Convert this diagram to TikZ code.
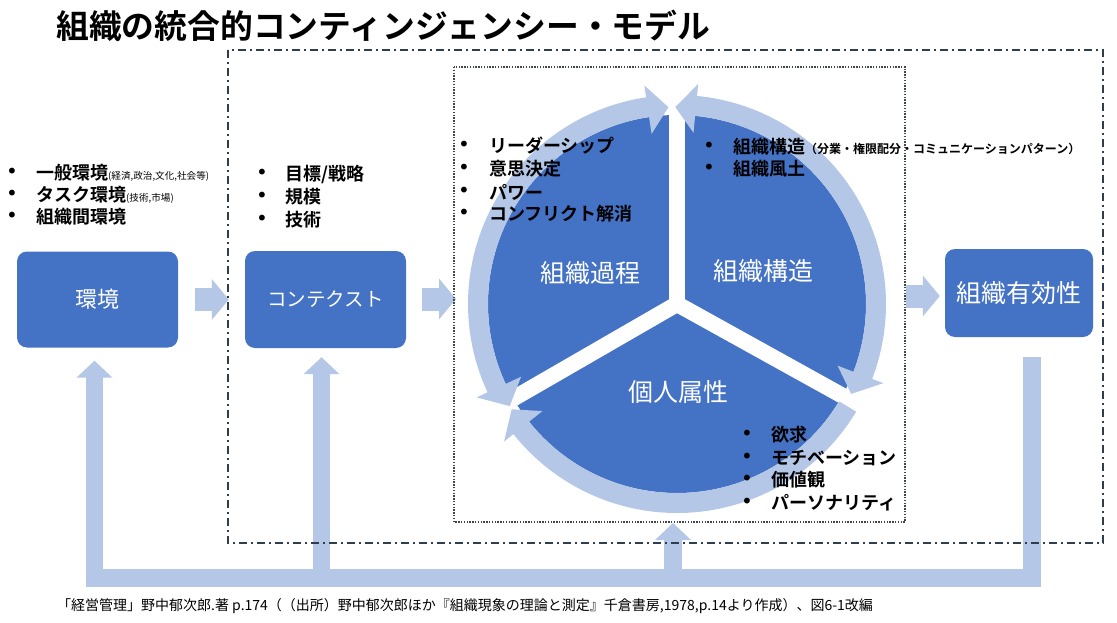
\documentclass[tikz,border=0pt]{standalone}
\usepackage{fontspec}
\setmainfont{Noto Sans CJK JP}[BoldFont={Noto Sans CJK JP Bold}]
\newfontfamily\bulletfont{DejaVu Sans}
\usetikzlibrary{arrows.meta}
\definecolor{dblue}{HTML}{4472C4}
\definecolor{lblue}{HTML}{B4C7E7}
\definecolor{framec}{HTML}{2F3E4C}
\definecolor{dotc}{HTML}{404548}
\newcommand{\smalltxt}{\mdseries\fontsize{9.6}{10}\selectfont}
\begin{document}
\begin{tikzpicture}[x=1pt,y=-1pt,
  box/.style={rounded corners=10pt, fill=dblue, text=white, inner sep=0pt},
  blk/.style={draw=lblue, line width=23pt, -{Triangle[width=40pt,length=17pt]}},
  fbl/.style={draw=lblue, line width=17.5pt, line join=miter, -{Triangle[width=35pt,length=17pt]}},
  ring/.style={fill=lblue},
  lst/.style={anchor=west, inner sep=0pt, font=\bfseries\fontsize{18}{20}\selectfont},
  bul/.style={inner sep=0pt, font=\bulletfont\fontsize{20}{20}\selectfont},
  ctr/.style={inner sep=0pt, text=white, font=\fontsize{25}{27}\selectfont},
  ddframe/.style={draw=framec, line width=1.8pt, dash pattern=on 8pt off 4pt on 2pt off 4pt},
  dotframe/.style={draw=dotc, line width=1.4pt, dash pattern=on 1.4pt off 1.4pt}
]
\fill[white] (0,0) rectangle (1117,623);
\useasboundingbox (0,0) rectangle (1117,623);

% title
\node[anchor=west, inner sep=0pt, font=\bfseries\fontsize{32.8}{36}\selectfont] (title) at (56,26) {組織の統合的コンティンジェンシー・モデル};

% boxes
\node[box, minimum width=161pt, minimum height=96pt, font=\fontsize{22}{24}\selectfont] (env) at (97.5,299.5) {環境};
\node[box, minimum width=161pt, minimum height=97pt, font=\fontsize{19.5}{22}\selectfont] (ctx) at (325.5,299.5) {コンテクスト};
\node[box, minimum width=148pt, minimum height=88pt, font=\fontsize{25}{27}\selectfont] (eff) at (1019,293) {組織有効性};

\coordinate (pc) at (677,304);
\coordinate (inL) at (456,299);
\coordinate (outR) at (906,296);

% pie and ring
\begin{scope}[shift={(677,304)}, y=1pt]
  \fill[dblue] (0,0) circle[radius=189];
  \draw[white, line width=16pt] (0,0) -- (90:196);
  \draw[white, line width=16pt] (0,0) -- (210:196);
  \draw[white, line width=16pt] (0,0) -- (-29:196);
  % left arc (double headed)
  \fill[ring] (98.5:209) arc[start angle=98.5, end angle=205, radius=209]
     -- (205:221) -- (211.4:196) -- (205:172) -- (205:189)
     arc[start angle=205, end angle=98.5, radius=189]
     -- (98.5:172) -- (92.5:197) -- (98.5:221) -- cycle;
  % right arc (double headed)
  \fill[ring] (84.5:209) arc[start angle=84.5, end angle=-21, radius=209]
     -- (-21:221) -- (-27.3:196) -- (-21:172) -- (-21:189)
     arc[start angle=-21, end angle=84.5, radius=189]
     -- (84.5:172) -- (90.5:197) -- (84.5:221) -- cycle;
  % bottom arc
  \fill[ring] (-31:209) arc[start angle=-31, end angle=-141.5, radius=209]
     -- (-141.5:221) -- (-147.5:196) -- (-141.5:172) -- (-141.5:189)
     arc[start angle=-141.5, end angle=-31, radius=189] -- cycle;
\end{scope}

% block arrows
\draw[blk] ([xshift=17pt]env.east) -- ([xshift=-16pt]ctx.west);
\draw[blk] ([xshift=16pt]ctx.east |- inL) -- (inL);
\draw[blk, shorten >=5pt] (outR) -- (outR -| eff.west);

% feedback
\coordinate (fbS) at ([xshift=13pt,yshift=-20pt]eff.south);
\coordinate (fbBL) at (94.5,578);
\coordinate (envIn) at ([xshift=-3pt,yshift=-13pt]env.south);
\coordinate (ctxIn) at ([xshift=-4pt,yshift=-9pt]ctx.south);
\coordinate (pieIn) at (673,523);
\draw[fbl] (fbS) |- (fbBL) -- (envIn);
\draw[fbl] (ctxIn |- fbBL) -- (ctxIn);
\draw[fbl] (pieIn |- fbBL) -- (pieIn);

% frames
\draw[ddframe] (228,50) rectangle (1103,543);
\draw[dotframe] (454,67) rectangle (905,522);

% centre labels
\node[ctr] (lproc) at (590,273) {組織過程};
\node[ctr] (lstruc) at (763,271) {組織構造};
\node[ctr] (lind) at (678,392) {個人属性};

% environment list
\node[bul] (b1) at (12,173) {•};
\node[lst] (t1) at (36,173) {一般環境{\smalltxt (経済,政治,文化,社会等)}};
\node[bul] (b2) at (12,195) {•};
\node[lst] (t2) at (36,195) {タスク環境{\smalltxt (技術,市場)}};
\node[bul] (b3) at (12,217) {•};
\node[lst] (t3) at (36,217) {組織間環境};

% context list
\node[bul] (c1) at (262,174) {•};
\node[lst] (u1) at (285,174) {目標/戦略};
\node[bul] (c2) at (262,197) {•};
\node[lst] (u2) at (285,197) {規模};
\node[bul] (c3) at (262,220) {•};
\node[lst] (u3) at (285,220) {技術};

% process list
\node[bul] (p1) at (464,146) {•};
\node[lst] (q1) at (489,146) {リーダーシップ};
\node[bul] (p2) at (464,169) {•};
\node[lst] (q2) at (489,169) {意思決定};
\node[bul] (p3) at (464,192) {•};
\node[lst] (q3) at (489,192) {パワー};
\node[bul] (p4) at (464,214) {•};
\node[lst] (q4) at (489,214) {コンフリクト解消};

% structure list
\node[bul] (s1) at (709,147) {•};
\node[lst] (r1) at (733,147) {組織構造{\bfseries\fontsize{12}{12}\selectfont （分業・権限配分・コミュニケーションパターン）}};
\node[bul] (s2) at (709,169) {•};
\node[lst] (r2) at (733,169) {組織風土};

% individual list
\node[bul] (i1) at (747,435) {•};
\node[lst] (j1) at (771,435) {欲求};
\node[bul] (i2) at (747,458) {•};
\node[lst] (j2) at (771,458) {モチベーション};
\node[bul] (i3) at (747,480) {•};
\node[lst] (j3) at (771,480) {価値観};
\node[bul] (i4) at (747,503) {•};
\node[lst] (j4) at (771,503) {パーソナリティ};

% caption
\node[anchor=west, inner sep=0pt, font=\fontsize{14}{16}\selectfont] (cap) at (57,606) {「経営管理」野中郁次郎.著 p.174（（出所）野中郁次郎ほか『組織現象の理論と測定』千倉書房,1978,p.14より作成）、図6-1改編};
\end{tikzpicture}
\end{document}
